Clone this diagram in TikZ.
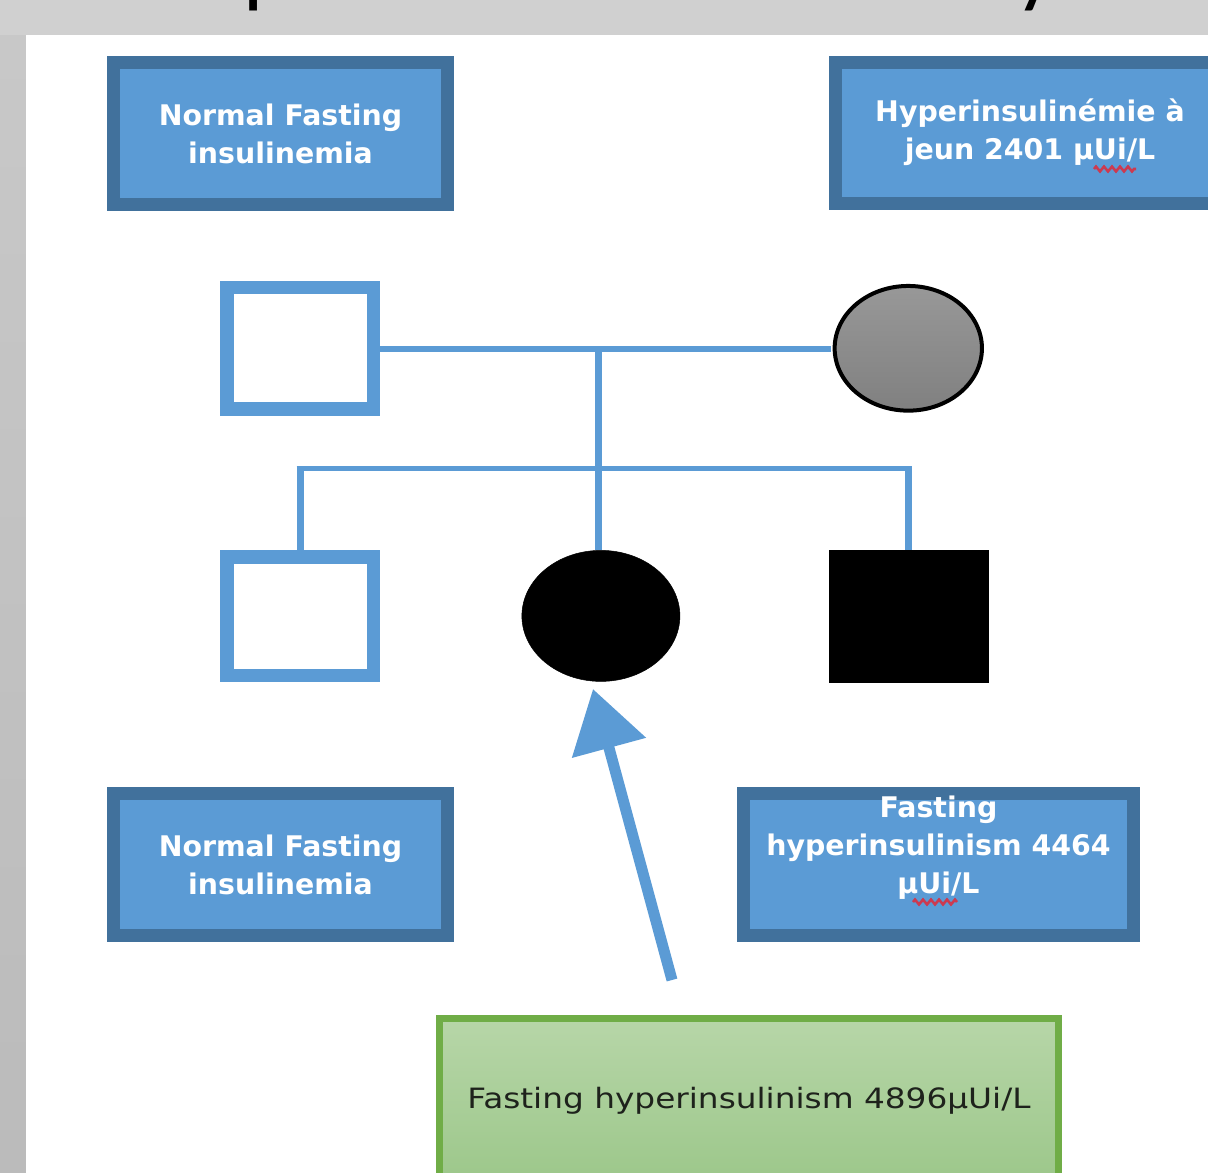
\documentclass[tikz,border=0pt]{standalone}
\usepackage{fontspec}
\setmainfont{DejaVu Sans}
\newfontfamily\titlefont{Carlito}
\newfontfamily\greenfont[FakeStretch=1.17]{DejaVu Sans}
\usetikzlibrary{arrows.meta,decorations.pathmorphing,shapes.geometric,calc}

\definecolor{boxfill}{HTML}{5B9BD5}
\definecolor{boxedge}{HTML}{41719C}
\definecolor{pedblue}{HTML}{5B9BD5}
\definecolor{greenedge}{HTML}{70AD47}
\definecolor{greentop}{HTML}{B7D6A8}
\definecolor{greenbot}{HTML}{9CC78A}
\definecolor{slidegray}{HTML}{D0D0D0}
\definecolor{stripA}{HTML}{C8C8C8}
\definecolor{stripB}{HTML}{BBBBBB}
\definecolor{motherA}{HTML}{989898}
\definecolor{motherB}{HTML}{808080}
\definecolor{greentext}{HTML}{1E221C}
\definecolor{spellred}{HTML}{CC3A50}

\begin{document}
\begin{tikzpicture}[x=1pt,y=-1pt,
  infobox/.style={draw=boxedge, fill=boxfill, line width=13pt, inner sep=0pt,
    text=white, align=center, font=\fontsize{28.4}{38}\selectfont\bfseries,
    minimum width=334pt, minimum height=142pt},
  resultbox/.style={draw=greenedge, top color=greentop, bottom color=greenbot,
    line width=7pt, inner sep=0pt, text=greentext,
    font=\greenfont\fontsize{28}{34}\selectfont,
    minimum width=619pt, minimum height=165pt},
  malebox/.style={rectangle, draw=pedblue, fill=white, line width=13.5pt,
    inner sep=0pt, minimum width=146.5pt},
  affmale/.style={rectangle, draw=black, fill=black, line width=0.5pt,
    inner sep=0pt, minimum width=159pt, minimum height=131.7pt},
  afffemale/.style={ellipse, draw=black, fill=black, line width=0.5pt,
    inner sep=0pt, minimum width=158pt, minimum height=131pt},
  carrier/.style={ellipse, draw=black, line width=4pt, top color=motherA,
    bottom color=motherB, inner sep=0pt, minimum width=147.3pt,
    minimum height=124.7pt},
  pedh/.style={draw=pedblue, line width=5.5pt},
  pedv/.style={draw=pedblue, line width=7pt},
  probarrow/.style={draw=pedblue, line width=11pt,
    -{Triangle[length=61pt,width=74pt]}},
  squig/.style={draw=spellred, line width=2.6pt, decorate,
    decoration={zigzag, segment length=8pt, amplitude=2.4pt}}
]
\useasboundingbox (0,0) rectangle (1208,1173);
\clip (0,0) rectangle (1208,1173);

% slide background
\fill[slidegray] (0,0) rectangle (1208,1173);
\shade[top color=stripA, bottom color=stripB] (0,35) rectangle (26,1173);
\fill[white] (26,35) rectangle (1208,1173);

% title (mostly cut off)
\node[anchor=base west, inner sep=0pt, font=\titlefont\fontsize{90}{90}\selectfont]
  (title) at (160,-3.5) {Exploration of the family};

% info boxes
\node[infobox] (info1) at (280.5,133.5) {Normal Fasting\\insulinemia};
\node[infobox, minimum width=389pt, minimum height=141pt] (info2) at (1030,132.5)
  {Hyperinsulinémie à\\jeun 2401 µUi/L};
\node[infobox] (info3) at (280.5,864.5) {Normal Fasting\\insulinemia};
\node[infobox, minimum width=390pt] (info4) at (938.5,864.5)
  {Fasting\\hyperinsulinism 4464\\µUi/L\rule[-38.7pt]{0pt}{0pt}};

% spell-check squiggles
\draw[squig] (1094,169) -- (1136,169);
\draw[squig] (913,902) -- (957,902);

% pedigree
\node[malebox, minimum height=121.2pt] (father) at (300,348.3) {};
\node[carrier] (mother) at (908.3,348.3) {};
\node[malebox, minimum height=118.5pt] (son1) at (300,616) {};
\node[afffemale] (dau) at (600.9,615.9) {};
\node[affmale] (son2) at (908.5,615.9) {};

\coordinate (mid) at (598.5,349);
\coordinate (sib) at (598.5,468.5);

\draw[pedh] (father.east |- mid) -- ([xshift=-1.5pt]mother.west |- mid);
\draw[pedv] (mid) -- (mid |- dau.north);
\draw[pedh] ([xshift=-3.5pt]son1.north |- sib) -- ([xshift=3.5pt]son2.north |- sib);
\draw[pedv] (son1.north |- sib) -- (son1.north);
\draw[pedv] (son2.north |- sib) -- (son2.north);

% proband arrow
\coordinate (arrowtail) at (672,980);
\coordinate (arrowtip) at (593,689);
\draw[probarrow] (arrowtail) -- (arrowtip);

% result box
\node[resultbox] (result) at (749,1101) {Fasting hyperinsulinism 4896µUi/L};
\end{tikzpicture}
\end{document}
